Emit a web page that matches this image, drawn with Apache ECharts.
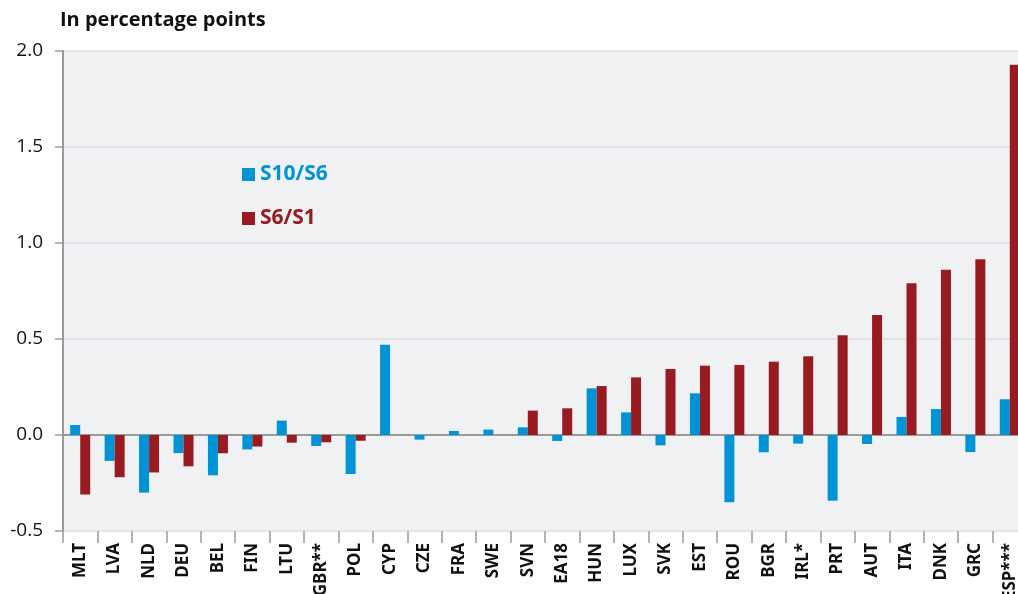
<!DOCTYPE html>
<html>
<head>
<meta charset="utf-8">
<script src="https://cdn.jsdelivr.net/npm/echarts@6/dist/echarts.min.js"></script>
<style>
  html, body { margin: 0; padding: 0; background: #ffffff; }
  #chart { width: 1018px; height: 594px; }
</style>
</head>
<body>
<div id="chart"></div>
<script>
// Country codes along the horizontal axis
const categories = ['MLT', 'LVA', 'NLD', 'DEU', 'BEL', 'FIN', 'LTU', 'GBR**', 'POL', 'CYP',
  'CZE', 'FRA', 'SWE', 'SVN', 'EA18', 'HUN', 'LUX', 'SVK', 'EST', 'ROU',
  'BGR', 'IRL*', 'PRT', 'AUT', 'ITA', 'DNK', 'GRC', 'ESP***'];

// S10/S6 contribution, percentage points
const s10s6 = [0.052, -0.135, -0.30, -0.094, -0.21, -0.075, 0.075, -0.057, -0.203, 0.47,
  -0.024, 0.021, 0.028, 0.04, -0.031, 0.243, 0.118, -0.054, 0.217, -0.35,
  -0.09, -0.045, -0.342, -0.047, 0.094, 0.135, -0.089, 0.186];

// S6/S1 contribution, percentage points
const s6s1 = [-0.31, -0.22, -0.195, -0.163, -0.095, -0.06, -0.04, -0.038, -0.03, 0,
  0, 0, 0, 0.127, 0.139, 0.255, 0.30, 0.344, 0.361, 0.365,
  0.382, 0.41, 0.52, 0.625, 0.79, 0.861, 0.915, 1.929];

const yTicks = { min: -0.5, max: 2.0, step: 0.5 };

const BLUE = '#0093d6';
const RED = '#981b21';
const FONT = '"Open Sans", "Noto Sans", sans-serif';
const LABEL_FONT = '"Noto Sans", "Open Sans", sans-serif';

const chart = echarts.init(document.getElementById('chart'), null, { renderer: 'canvas' });

chart.setOption({
  animation: false,
  backgroundColor: '#ffffff',
  title: {
    text: 'In percentage points',
    left: 55,
    top: 5,
    textStyle: { fontFamily: FONT, fontSize: 20, fontWeight: 'bold', color: '#111111' }
  },
  legend: {
    orient: 'vertical',
    left: 237,
    top: 159,
    itemGap: 23,
    itemWidth: 13,
    itemHeight: 13,
    icon: 'rect',
    textStyle: { fontFamily: FONT, fontSize: 21, fontWeight: 'bold' },
    data: [
      { name: 'S10/S6', textStyle: { color: BLUE } },
      { name: 'S6/S1', textStyle: { color: RED } }
    ]
  },
  grid: {
    left: 63,
    right: -9,
    top: 51,
    bottom: 63,
    outerBoundsMode: 'none',
    containLabel: false,
    show: true,
    backgroundColor: '#f0f1f3',
    borderWidth: 0
  },
  xAxis: {
    type: 'category',
    data: categories,
    axisLine: { show: false, onZero: false },
    axisTick: { show: true, length: 12, lineStyle: { color: '#9a9a9a', width: 1.5 } },
    axisLabel: {
      rotate: 90,
      margin: 12,
      interval: 0,
      fontFamily: LABEL_FONT,
      fontSize: 17,
      fontWeight: 'bold',
      color: '#111111'
    }
  },
  yAxis: {
    type: 'value',
    min: yTicks.min,
    max: yTicks.max,
    interval: yTicks.step,
    axisLine: { show: true, lineStyle: { color: '#9a9a9a', width: 2 } },
    axisTick: { show: true, length: 8, lineStyle: { color: '#9a9a9a', width: 1.5 } },
    axisLabel: {
      margin: 20,
      fontFamily: FONT,
      fontSize: 19,
      color: '#111111',
      formatter: v => v.toFixed(1)
    },
    splitLine: { show: true, lineStyle: { color: '#dcdde0', width: 1.5 } }
  },
  series: [
    {
      name: 'S10/S6',
      type: 'bar',
      data: s10s6,
      barWidth: 10,
      barGap: '0%',
      itemStyle: { color: BLUE },
      markLine: {
        silent: true,
        symbol: 'none',
        label: { show: false },
        lineStyle: { color: '#9a9a9a', width: 2, type: 'solid' },
        data: [{ yAxis: 0 }],
        z: 1
      }
    },
    {
      name: 'S6/S1',
      type: 'bar',
      data: s6s1,
      barWidth: 10,
      itemStyle: { color: RED }
    }
  ]
});
</script>
</body>
</html>
